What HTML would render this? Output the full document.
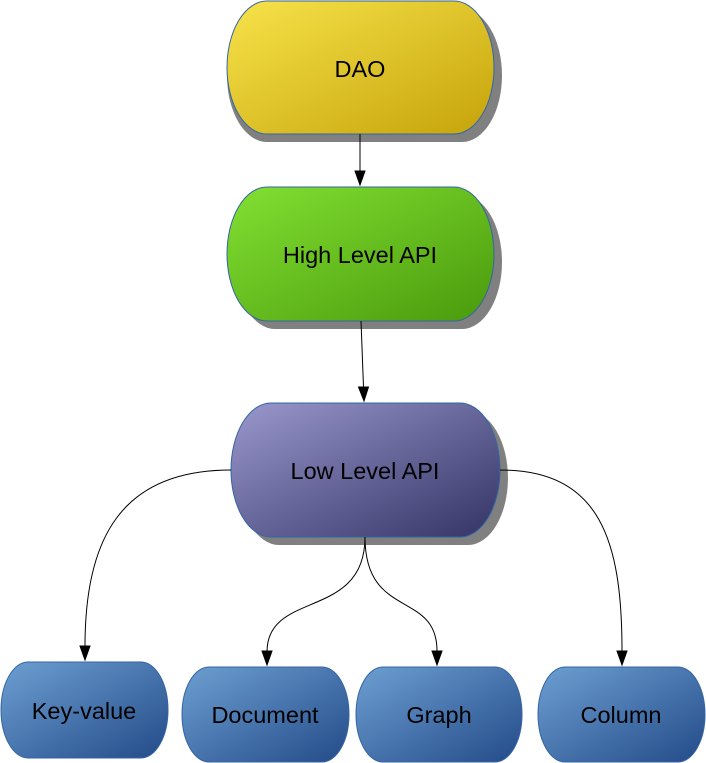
<!DOCTYPE html>
<html><head><style>html,body{margin:0;padding:0;background:#fff}svg{display:block}</style></head><body>
<svg width="706" height="763" xmlns="http://www.w3.org/2000/svg" font-family="Liberation Sans, sans-serif">
<defs>
<linearGradient id="y" x1="0" y1="0" x2="1" y2="1"><stop offset="0" stop-color="#f7e34a"/><stop offset="1" stop-color="#c6a30a"/></linearGradient>
<linearGradient id="g" x1="0" y1="0" x2="1" y2="1"><stop offset="0" stop-color="#82e032"/><stop offset="1" stop-color="#4a9a0c"/></linearGradient>
<linearGradient id="p" x1="0" y1="0" x2="1" y2="1"><stop offset="0" stop-color="#9a98cc"/><stop offset="1" stop-color="#333366"/></linearGradient>
<linearGradient id="b" x1="0" y1="0" x2="1" y2="1"><stop offset="0" stop-color="#6d9fd2"/><stop offset="1" stop-color="#234b88"/></linearGradient>
</defs>
<g stroke="#3465a4" stroke-width="1">
<path d="M267,9 H462 A40,66.5 0 0 1 462,142 H267 A40,66.5 0 0 1 267,9Z" fill="#808080" stroke="none"/>
<path d="M267,1 H454 A40,66.5 0 0 1 454,134 H267 A40,66.5 0 0 1 267,1Z" fill="url(#y)"/>
<path d="M275,195 H462 A40,67 0 0 1 462,329 H275 A40,67 0 0 1 275,195Z" fill="#808080" stroke="none"/>
<path d="M267,187 H454 A40,67 0 0 1 454,321 H267 A40,67 0 0 1 267,187Z" fill="url(#g)"/>
<path d="M279,411 H468 A40,67 0 0 1 468,545 H279 A40,67 0 0 1 279,411Z" fill="#808080" stroke="none"/>
<path d="M271,403 H460 A40,67 0 0 1 460,537 H271 A40,67 0 0 1 271,403Z" fill="url(#p)"/>
<path d="M28,662 H141 A27,48 0 0 1 141,758 H28 A27,48 0 0 1 28,662Z" fill="url(#b)"/>
<path d="M209,667 H322 A27,47.5 0 0 1 322,762 H209 A27,47.5 0 0 1 209,667Z" fill="url(#b)"/>
<path d="M383,667 H495 A27,47.5 0 0 1 495,762 H383 A27,47.5 0 0 1 383,667Z" fill="url(#b)"/>
<path d="M565,667 H678 A27,47.5 0 0 1 678,762 H565 A27,47.5 0 0 1 565,667Z" fill="url(#b)"/>
</g>
<g fill="none" stroke="#000" stroke-width="1">
<path d="M360,134 V171"/><path d="M355,171 L365,171 L360,185Z" fill="#000"/>
<path d="M361,321 L363.5,387"/><path d="M358.5,387 L368.5,387 L364,401Z" fill="#000"/>
<path d="M231,470 C120,470 85,540 85,646"/><path d="M80,646 L90,646 L85,660Z" fill="#000"/>
<path d="M500,470 C600,470 622,540 622,651"/><path d="M617,651 L627,651 L622,665Z" fill="#000"/>
<path d="M365,537 C365,620 268,590 267,651"/><path d="M262,651 L272,651 L267,665Z" fill="#000"/>
<path d="M365,537 C365,620 437,590 437,651"/><path d="M432,651 L442,651 L437,665Z" fill="#000"/>
</g>
<g font-size="23.5" text-anchor="middle" fill="#000">
<text x="360" y="77">DAO</text>
<text x="360" y="263">High Level API</text>
<text x="365" y="479">Low Level API</text>
<text x="84" y="719">Key-value</text>
<text x="265" y="723">Document</text>
<text x="439" y="723">Graph</text>
<text x="621" y="723">Column</text>
</g>
</svg>
</body></html>
